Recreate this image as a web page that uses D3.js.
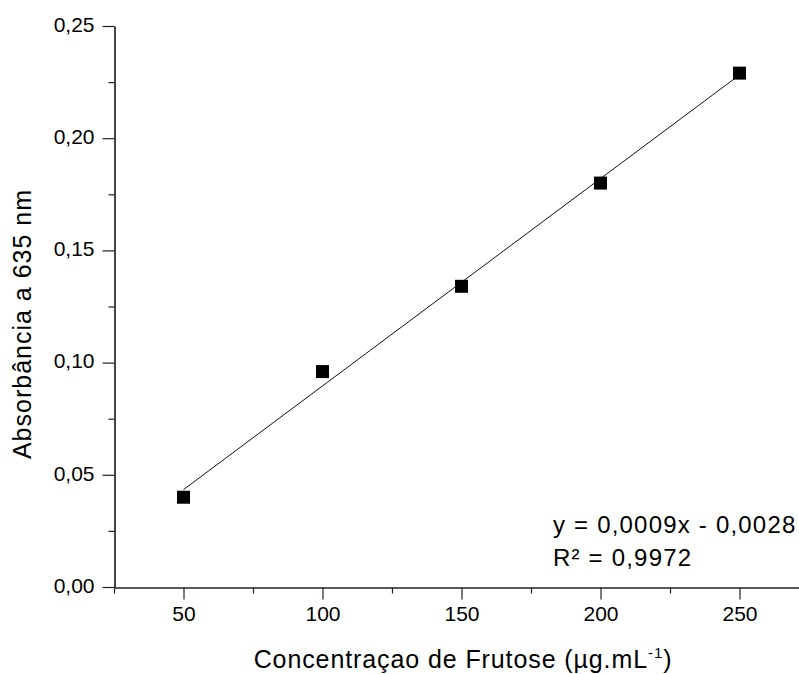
<!DOCTYPE html>
<html>
<head>
<meta charset="utf-8">
<script src="https://cdn.jsdelivr.net/npm/d3@7"></script>
<style>
  html, body { margin: 0; padding: 0; background: #fff; }
  svg { display: block; font-family: "Liberation Sans", Arial, sans-serif; }
</style>
</head>
<body>
<svg id="chart" width="799" height="674"></svg>
<script>
// Calibration data: fructose concentration vs absorbance at 635 nm
const concentration = [50, 100, 150, 200, 250];
const absorbance = [0.040, 0.096, 0.134, 0.180, 0.229];

const xMajorTicks = [50, 100, 150, 200, 250];
const xMinorTicks = [25, 75, 125, 175, 225];
const yMajorTicks = [0, 0.05, 0.10, 0.15, 0.20, 0.25];
const yMinorTicks = [0.025, 0.075, 0.125, 0.175, 0.225];

const xTitle = "Concentraçao de Frutose (µg.mL";
const yTitle = "Absorbância a 635 nm";
const equationLines = ["y = 0,0009x - 0,0028", "R² = 0,9972"];

const svg = d3.select("#chart");

const x = d3.scaleLinear().domain([25, 275]).range([114, 809]);
const y = d3.scaleLinear().domain([0, 0.25]).range([587, 26]);

const ptLocale = d3.formatLocale({ decimal: ",", thousands: ".", grouping: [3], currency: ["", ""] });
const yFmt = ptLocale.format(".2f");

// Least-squares fit through the calibration points
const mx = d3.mean(concentration), my = d3.mean(absorbance);
const slope = d3.sum(concentration, (c, i) => (c - mx) * (absorbance[i] - my)) /
              d3.sum(concentration, c => (c - mx) ** 2);
const intercept = my - slope * mx;

const axisColor = "#222";

// X axis
const gx = svg.append("g").attr("transform", "translate(0,587.5)");
gx.call(d3.axisBottom(x).tickValues(xMajorTicks).tickSize(12).tickSizeOuter(0).tickPadding(7));
gx.append("g").call(d3.axisBottom(x).tickValues(xMinorTicks).tickSize(6).tickSizeOuter(0).tickFormat(""));
gx.selectAll("path.domain").attr("stroke", axisColor).attr("stroke-width", 1.2);
gx.selectAll("line").attr("stroke", axisColor).attr("stroke-width", 1.2);
gx.selectAll("text").attr("fill", "#000").attr("font-size", 21)
  .attr("font-family", "Liberation Sans, Arial, sans-serif");

// Y axis
const gy = svg.append("g").attr("transform", "translate(114.5,0)");
gy.call(d3.axisLeft(y).tickValues(yMajorTicks).tickSize(12).tickSizeOuter(0).tickPadding(8).tickFormat(yFmt));
gy.append("g").call(d3.axisLeft(y).tickValues(yMinorTicks).tickSize(6).tickSizeOuter(0).tickFormat(""));
gy.selectAll("path.domain").attr("stroke", axisColor).attr("stroke-width", 1.2);
gy.selectAll("line").attr("stroke", axisColor).attr("stroke-width", 1.2);
gy.selectAll("text").attr("fill", "#000").attr("font-size", 21)
  .attr("font-family", "Liberation Sans, Arial, sans-serif").attr("dy", "0.25em");

// Regression line
svg.append("line")
  .attr("x1", x(d3.min(concentration))).attr("y1", y(slope * d3.min(concentration) + intercept))
  .attr("x2", x(d3.max(concentration))).attr("y2", y(slope * d3.max(concentration) + intercept))
  .attr("stroke", "#111").attr("stroke-width", 1);

// Square markers
const msize = 13;
svg.append("g").selectAll("rect")
  .data(concentration.map((c, i) => ({ c, a: absorbance[i] })))
  .join("rect")
  .attr("x", d => x(d.c) - msize / 2)
  .attr("y", d => y(d.a) - msize / 2)
  .attr("width", msize).attr("height", msize)
  .attr("fill", "#000");

// Equation text
svg.append("g").selectAll("text")
  .data(equationLines)
  .join("text")
  .attr("x", 553).attr("y", (d, i) => 533 + i * 32.5)
  .attr("font-size", 24).attr("letter-spacing", 1.2).attr("fill", "#000")
  .text(d => d);

// X axis title with superscript unit exponent
const xt = svg.append("text")
  .attr("x", 463).attr("y", 668)
  .attr("text-anchor", "middle")
  .attr("font-size", 25).attr("letter-spacing", 0.9).attr("fill", "#000");
xt.append("tspan").text(xTitle);
xt.append("tspan").attr("font-size", 15).attr("dy", -10).text("-1");
xt.append("tspan").attr("dy", 10).text(")");

// Y axis title
svg.append("text")
  .attr("transform", "translate(31,324) rotate(-90)")
  .attr("text-anchor", "middle")
  .attr("font-size", 25).attr("letter-spacing", 1).attr("fill", "#000")
  .text(yTitle);
</script>
</body>
</html>
